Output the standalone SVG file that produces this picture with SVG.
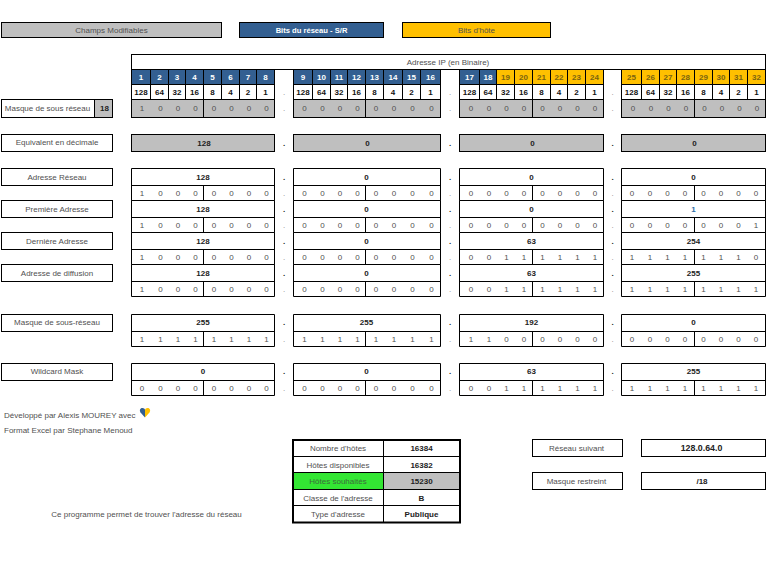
<svg xmlns="http://www.w3.org/2000/svg" width="769" height="579" viewBox="0 0 769 579">
<style>
text{font-family:"Liberation Sans",Arial,sans-serif;font-size:8px;text-anchor:middle;fill:#505050}
.b{font-weight:bold;fill:#111}
.w{font-weight:bold;fill:#fff}
.h{font-weight:bold;fill:#7a6410}
.l{text-anchor:start}
.d{font-weight:bold;fill:#222}
.s{fill:#8a8a8a}
rect,path.g{stroke:#000;stroke-width:1;fill:#fff}
rect.y{fill:#bfbfbf}
rect.bl{fill:#335f91}
rect.o{fill:#ffc000}
rect.gr{fill:#33e633}
rect.n{stroke:none}
path.g{fill:none}
path.t{fill:none;stroke:#000;stroke-width:2}
</style>
<rect width="769" height="579" style="fill:#fff;stroke:none"/>
<g id="legende">
<g id="legende-modifiables"><rect class="y" x="1.5" y="22.5" width="220" height="15"/><text x="111.5" y="33">Champs Modifiables</text></g>
<g id="legende-reseau"><rect class="bl" x="239.5" y="22.5" width="144" height="15"/><text class="w" x="311.5" y="33" style="font-size:7.6px">Bits du réseau - S/R</text></g>
<g id="legende-hote"><rect class="o" x="402.5" y="22.5" width="148" height="15"/><text x="476.5" y="33">Bits d'hôte</text></g>
</g>
<g id="titre"><rect x="131.5" y="54.5" width="634" height="15"/><text x="448" y="65">Adresse IP (en Binaire)</text></g>
<g id="entete">
<rect class="bl" x="131.5" y="69.5" width="19" height="15"/><rect class="bl" x="150.5" y="69.5" width="18" height="15"/><rect class="bl" x="168.5" y="69.5" width="17" height="15"/><rect class="bl" x="185.5" y="69.5" width="18" height="15"/><rect class="bl" x="203.5" y="69.5" width="18" height="15"/><rect class="bl" x="221.5" y="69.5" width="18" height="15"/><rect class="bl" x="239.5" y="69.5" width="17" height="15"/><rect class="bl" x="256.5" y="69.5" width="18" height="15"/>
<rect class="bl" x="293.5" y="69.5" width="19" height="15"/><rect class="bl" x="312.5" y="69.5" width="18" height="15"/><rect class="bl" x="330.5" y="69.5" width="17" height="15"/><rect class="bl" x="347.5" y="69.5" width="18" height="15"/><rect class="bl" x="365.5" y="69.5" width="18" height="15"/><rect class="bl" x="383.5" y="69.5" width="19" height="15"/><rect class="bl" x="402.5" y="69.5" width="18" height="15"/><rect class="bl" x="420.5" y="69.5" width="20" height="15"/>
<rect class="bl" x="459.5" y="69.5" width="20" height="15"/><rect class="bl" x="479.5" y="69.5" width="17" height="15"/><rect class="o" x="496.5" y="69.5" width="18" height="15"/><rect class="o" x="514.5" y="69.5" width="18" height="15"/><rect class="o" x="532.5" y="69.5" width="18" height="15"/><rect class="o" x="550.5" y="69.5" width="17" height="15"/><rect class="o" x="567.5" y="69.5" width="18" height="15"/><rect class="o" x="585.5" y="69.5" width="18" height="15"/>
<rect class="o" x="621.5" y="69.5" width="20" height="15"/><rect class="o" x="641.5" y="69.5" width="18" height="15"/><rect class="o" x="659.5" y="69.5" width="17" height="15"/><rect class="o" x="676.5" y="69.5" width="18" height="15"/><rect class="o" x="694.5" y="69.5" width="18" height="15"/><rect class="o" x="712.5" y="69.5" width="17" height="15"/><rect class="o" x="729.5" y="69.5" width="18" height="15"/><rect class="o" x="747.5" y="69.5" width="18" height="15"/>
<g transform="translate(0,80)">
<text class="w" x="141">1</text><text class="w" x="159.500">2</text><text class="w" x="177">3</text><text class="w" x="194.500">4</text><text class="w" x="212.500">5</text><text class="w" x="230.500">6</text><text class="w" x="248">7</text><text class="w" x="265.500">8</text>
<text class="w" x="303">9</text><text class="w" x="321.500">10</text><text class="w" x="339">11</text><text class="w" x="356.500">12</text><text class="w" x="374.500">13</text><text class="w" x="393">14</text><text class="w" x="411.500">15</text><text class="w" x="430.500">16</text>
<text class="w" x="469.500">17</text><text class="w" x="488">18</text><text class="h" x="505.500">19</text><text class="h" x="523.500">20</text><text class="h" x="541.500">21</text><text class="h" x="559">22</text><text class="h" x="576.500">23</text><text class="h" x="594.500">24</text>
<text class="h" x="631.500">25</text><text class="h" x="650.500">26</text><text class="h" x="668">27</text><text class="h" x="685.500">28</text><text class="h" x="703.500">29</text><text class="h" x="721">30</text><text class="h" x="738.500">31</text><text class="h" x="756.500">32</text>
</g>
</g>
<g id="poids">
<path class="g" d="M131.500 84.500H274.500V99.500H131.500ZM150.500 84.500V99.500M168.500 84.500V99.500M185.500 84.500V99.500M203.500 84.500V99.500M221.500 84.500V99.500M239.500 84.500V99.500M256.500 84.500V99.500"/>
<path class="g" d="M293.500 84.500H440.500V99.500H293.500ZM312.500 84.500V99.500M330.500 84.500V99.500M347.500 84.500V99.500M365.500 84.500V99.500M383.500 84.500V99.500M402.500 84.500V99.500M420.500 84.500V99.500"/>
<path class="g" d="M459.500 84.500H603.500V99.500H459.500ZM479.500 84.500V99.500M496.500 84.500V99.500M514.500 84.500V99.500M532.500 84.500V99.500M550.500 84.500V99.500M567.500 84.500V99.500M585.500 84.500V99.500"/>
<path class="g" d="M621.500 84.500H765.500V99.500H621.500ZM641.500 84.500V99.500M659.500 84.500V99.500M676.500 84.500V99.500M694.500 84.500V99.500M712.500 84.500V99.500M729.500 84.500V99.500M747.500 84.500V99.500"/>
<g transform="translate(0,95)">
<text class="b" x="141">128</text><text class="b" x="159.500">64</text><text class="b" x="177">32</text><text class="b" x="194.500">16</text><text class="b" x="212.500">8</text><text class="b" x="230.500">4</text><text class="b" x="248">2</text><text class="b" x="265.500">1</text>
<text class="b" x="303">128</text><text class="b" x="321.500">64</text><text class="b" x="339">32</text><text class="b" x="356.500">16</text><text class="b" x="374.500">8</text><text class="b" x="393">4</text><text class="b" x="411.500">2</text><text class="b" x="430.500">1</text>
<text class="b" x="469.500">128</text><text class="b" x="488">64</text><text class="b" x="505.500">32</text><text class="b" x="523.500">16</text><text class="b" x="541.500">8</text><text class="b" x="559">4</text><text class="b" x="576.500">2</text><text class="b" x="594.500">1</text>
<text class="b" x="631.500">128</text><text class="b" x="650.500">64</text><text class="b" x="668">32</text><text class="b" x="685.500">16</text><text class="b" x="703.500">8</text><text class="b" x="721">4</text><text class="b" x="738.500">2</text><text class="b" x="756.500">1</text>
<text class="s" x="284">.</text><text class="s" x="450">.</text><text class="s" x="612.500">.</text>
</g>
</g>
<g id="masque">
<g id="masque-label"><rect x="1.500" y="99.500" width="111" height="18"/><rect class="y" x="94.500" y="99.500" width="18" height="18"/><text x="47.500" y="111">Masque de sous réseau</text><text class="d" x="104.500" y="111">18</text></g>
<rect class="y" x="131.500" y="99.500" width="143" height="18"/><rect class="y" x="293.500" y="99.500" width="147" height="18"/><rect class="y" x="459.500" y="99.500" width="144" height="18"/><rect class="y" x="621.500" y="99.500" width="144" height="18"/>
<path class="g" d="M203.500 99.500V117.500M365.500 99.500V117.500M532.500 99.500V117.500M694.500 99.500V117.500"/>
<g transform="translate(0,111)">
<text x="142">1</text><text x="160.500">0</text><text x="178">0</text><text x="195.500">0</text><text x="214">0</text><text x="231.500">0</text><text x="249">0</text><text x="266.500">0</text>
<text x="304.500">0</text><text x="322.500">0</text><text x="340">0</text><text x="357.500">0</text><text x="376">0</text><text x="394">0</text><text x="412.500">0</text><text x="431.500">0</text>
<text x="471">0</text><text x="489">0</text><text x="506.500">0</text><text x="524">0</text><text x="542.500">0</text><text x="560">0</text><text x="577.500">0</text><text x="595">0</text>
<text x="633">0</text><text x="651">0</text><text x="668.500">0</text><text x="686">0</text><text x="704.500">0</text><text x="722">0</text><text x="739.500">0</text><text x="757">0</text>
<text class="s" x="284">.</text><text class="s" x="450">.</text><text class="s" x="612.500">.</text>
</g>
</g>
<g id="decimale">
<g id="decimale-label"><rect x="1.500" y="134.500" width="111" height="17"/><text x="57" y="145">Equivalent en décimale</text></g>
<rect class="y" x="131.500" y="134.500" width="143" height="17"/><rect class="y" x="293.500" y="134.500" width="147" height="17"/><rect class="y" x="459.500" y="134.500" width="144" height="17"/><rect class="y" x="621.500" y="134.500" width="144" height="17"/>
<g transform="translate(0,146)"><text class="d" x="204">128</text><text class="d" x="367.500">0</text><text class="d" x="532.500">0</text><text class="d" x="694.500">0</text><text class="d" x="284">.</text><text class="d" x="450">.</text><text class="d" x="612.500">.</text></g>
</g>
<g id="adresse-reseau">
<g id="adresse-reseau-label"><rect x="1.500" y="168.500" width="111" height="17"/><text x="57" y="180">Adresse Réseau</text></g>
<path class="g" d="M131.500 168.500H274.500V200.500H131.500ZM131.500 185.500H274.500M203.500 185.500V200.500M293.500 168.500H440.500V200.500H293.500ZM293.500 185.500H440.500M365.500 185.500V200.500M459.500 168.500H603.500V200.500H459.500ZM459.500 185.500H603.500M532.500 185.500V200.500M621.500 168.500H765.500V200.500H621.500ZM621.500 185.500H765.500M694.500 185.500V200.500"/>
<g transform="translate(0,180)"><text class="d" x="203">128</text><text class="d" x="366.500">0</text><text class="d" x="531.500">0</text><text class="d" x="693.500">0</text><text class="d" x="284">.</text><text class="d" x="450">.</text><text class="d" x="612.500">.</text></g>
<g transform="translate(0,196)">
<text x="142">1</text><text x="160.500">0</text><text x="178">0</text><text x="195.500">0</text><text x="214">0</text><text x="231.500">0</text><text x="249">0</text><text x="266.500">0</text>
<text x="304.500">0</text><text x="322.500">0</text><text x="340">0</text><text x="357.500">0</text><text x="376">0</text><text x="394">0</text><text x="412.500">0</text><text x="431.500">0</text>
<text x="471">0</text><text x="489">0</text><text x="506.500">0</text><text x="524">0</text><text x="542.500">0</text><text x="560">0</text><text x="577.500">0</text><text x="595">0</text>
<text x="632">0</text><text x="650">0</text><text x="667.500">0</text><text x="685">0</text><text x="703.500">0</text><text x="721">0</text><text x="738.500">0</text><text x="756">0</text>
<text class="s" x="284">.</text><text class="s" x="450">.</text><text class="s" x="612.500">.</text>
</g>
</g>
<g id="premiere-adresse">
<g id="premiere-adresse-label"><rect x="1.500" y="200.500" width="111" height="17"/><text x="57" y="212">Première Adresse</text></g>
<path class="g" d="M131.500 200.500H274.500V232.500H131.500ZM131.500 217.500H274.500M203.500 217.500V232.500M293.500 200.500H440.500V232.500H293.500ZM293.500 217.500H440.500M365.500 217.500V232.500M459.500 200.500H603.500V232.500H459.500ZM459.500 217.500H603.500M532.500 217.500V232.500M621.500 200.500H765.500V232.500H621.500ZM621.500 217.500H765.500M694.500 217.500V232.500"/>
<g transform="translate(0,212)"><text class="d" x="203">128</text><text class="d" x="366.500">0</text><text class="d" x="531.500">0</text><text class="d" x="693.500" style="fill:#2e6da4">1</text><text class="d" x="284">.</text><text class="d" x="450">.</text><text class="d" x="612.500">.</text></g>
<g transform="translate(0,228)">
<text x="142">1</text><text x="160.500">0</text><text x="178">0</text><text x="195.500">0</text><text x="214">0</text><text x="231.500">0</text><text x="249">0</text><text x="266.500">0</text>
<text x="304.500">0</text><text x="322.500">0</text><text x="340">0</text><text x="357.500">0</text><text x="376">0</text><text x="394">0</text><text x="412.500">0</text><text x="431.500">0</text>
<text x="471">0</text><text x="489">0</text><text x="506.500">0</text><text x="524">0</text><text x="542.500">0</text><text x="560">0</text><text x="577.500">0</text><text x="595">0</text>
<text x="632">0</text><text x="650">0</text><text x="667.500">0</text><text x="685">0</text><text x="703.500">0</text><text x="721">0</text><text x="738.500">0</text><text x="756">1</text>
<text class="s" x="284">.</text><text class="s" x="450">.</text><text class="s" x="612.500">.</text>
</g>
</g>
<g id="derniere-adresse">
<g id="derniere-adresse-label"><rect x="1.500" y="232.500" width="111" height="17"/><text x="57" y="244">Dernière Adresse</text></g>
<path class="g" d="M131.500 232.500H274.500V264.500H131.500ZM131.500 249.500H274.500M203.500 249.500V264.500M293.500 232.500H440.500V264.500H293.500ZM293.500 249.500H440.500M365.500 249.500V264.500M459.500 232.500H603.500V264.500H459.500ZM459.500 249.500H603.500M532.500 249.500V264.500M621.500 232.500H765.500V264.500H621.500ZM621.500 249.500H765.500M694.500 249.500V264.500"/>
<g transform="translate(0,244)"><text class="d" x="203">128</text><text class="d" x="366.500">0</text><text class="d" x="531.500">63</text><text class="d" x="693.500">254</text><text class="d" x="284">.</text><text class="d" x="450">.</text><text class="d" x="612.500">.</text></g>
<g transform="translate(0,260)">
<text x="142">1</text><text x="160.500">0</text><text x="178">0</text><text x="195.500">0</text><text x="214">0</text><text x="231.500">0</text><text x="249">0</text><text x="266.500">0</text>
<text x="304.500">0</text><text x="322.500">0</text><text x="340">0</text><text x="357.500">0</text><text x="376">0</text><text x="394">0</text><text x="412.500">0</text><text x="431.500">0</text>
<text x="471">0</text><text x="489">0</text><text x="506.500">1</text><text x="524">1</text><text x="542.500">1</text><text x="560">1</text><text x="577.500">1</text><text x="595">1</text>
<text x="632">1</text><text x="650">1</text><text x="667.500">1</text><text x="685">1</text><text x="703.500">1</text><text x="721">1</text><text x="738.500">1</text><text x="756">0</text>
<text class="s" x="284">.</text><text class="s" x="450">.</text><text class="s" x="612.500">.</text>
</g>
</g>
<g id="adresse-diffusion">
<g id="adresse-diffusion-label"><rect x="1.500" y="264.500" width="111" height="17"/><text x="57" y="276">Adresse de diffusion</text></g>
<path class="g" d="M131.500 264.500H274.500V296.500H131.500ZM131.500 281.500H274.500M203.500 281.500V296.500M293.500 264.500H440.500V296.500H293.500ZM293.500 281.500H440.500M365.500 281.500V296.500M459.500 264.500H603.500V296.500H459.500ZM459.500 281.500H603.500M532.500 281.500V296.500M621.500 264.500H765.500V296.500H621.500ZM621.500 281.500H765.500M694.500 281.500V296.500"/>
<g transform="translate(0,276)"><text class="d" x="203">128</text><text class="d" x="366.500">0</text><text class="d" x="531.500">63</text><text class="d" x="693.500">255</text><text class="d" x="284">.</text><text class="d" x="450">.</text><text class="d" x="612.500">.</text></g>
<g transform="translate(0,292)">
<text x="142">1</text><text x="160.500">0</text><text x="178">0</text><text x="195.500">0</text><text x="214">0</text><text x="231.500">0</text><text x="249">0</text><text x="266.500">0</text>
<text x="304.500">0</text><text x="322.500">0</text><text x="340">0</text><text x="357.500">0</text><text x="376">0</text><text x="394">0</text><text x="412.500">0</text><text x="431.500">0</text>
<text x="471">0</text><text x="489">0</text><text x="506.500">1</text><text x="524">1</text><text x="542.500">1</text><text x="560">1</text><text x="577.500">1</text><text x="595">1</text>
<text x="632">1</text><text x="650">1</text><text x="667.500">1</text><text x="685">1</text><text x="703.500">1</text><text x="721">1</text><text x="738.500">1</text><text x="756">1</text>
<text class="s" x="284">.</text><text class="s" x="450">.</text><text class="s" x="612.500">.</text>
</g>
</g>
<g id="masque-sous-reseau">
<g id="masque-sous-reseau-label"><rect x="1.500" y="314.500" width="111" height="17"/><text x="57" y="325">Masque de sous-réseau</text></g>
<path class="g" d="M131.500 314.500H274.500V346.500H131.500ZM131.500 331.500H274.500M203.500 331.500V346.500M293.500 314.500H440.500V346.500H293.500ZM293.500 331.500H440.500M365.500 331.500V346.500M459.500 314.500H603.500V346.500H459.500ZM459.500 331.500H603.500M532.500 331.500V346.500M621.500 314.500H765.500V346.500H621.500ZM621.500 331.500H765.500M694.500 331.500V346.500"/>
<g transform="translate(0,325)"><text class="d" x="203">255</text><text class="d" x="366.500">255</text><text class="d" x="531.500">192</text><text class="d" x="693.500">0</text><text class="d" x="284">.</text><text class="d" x="450">.</text><text class="d" x="612.500">.</text></g>
<g transform="translate(0,342)">
<text x="142">1</text><text x="160.500">1</text><text x="178">1</text><text x="195.500">1</text><text x="214">1</text><text x="231.500">1</text><text x="249">1</text><text x="266.500">1</text>
<text x="304.500">1</text><text x="322.500">1</text><text x="340">1</text><text x="357.500">1</text><text x="376">1</text><text x="394">1</text><text x="412.500">1</text><text x="431.500">1</text>
<text x="471">1</text><text x="489">1</text><text x="506.500">0</text><text x="524">0</text><text x="542.500">0</text><text x="560">0</text><text x="577.500">0</text><text x="595">0</text>
<text x="632">0</text><text x="650">0</text><text x="667.500">0</text><text x="685">0</text><text x="703.500">0</text><text x="721">0</text><text x="738.500">0</text><text x="756">0</text>
<text class="s" x="284">.</text><text class="s" x="450">.</text><text class="s" x="612.500">.</text>
</g>
</g>
<g id="wildcard">
<g id="wildcard-label"><rect x="1.500" y="363.500" width="111" height="17"/><text x="57" y="374">Wildcard Mask</text></g>
<path class="g" d="M131.500 363.500H274.500V395.500H131.500ZM131.500 380.500H274.500M203.500 380.500V395.500M293.500 363.500H440.500V395.500H293.500ZM293.500 380.500H440.500M365.500 380.500V395.500M459.500 363.500H603.500V395.500H459.500ZM459.500 380.500H603.500M532.500 380.500V395.500M621.500 363.500H765.500V395.500H621.500ZM621.500 380.500H765.500M694.500 380.500V395.500"/>
<g transform="translate(0,374)"><text class="d" x="203">0</text><text class="d" x="366.500">0</text><text class="d" x="531.500">63</text><text class="d" x="693.500">255</text><text class="d" x="284">.</text><text class="d" x="450">.</text><text class="d" x="612.500">.</text></g>
<g transform="translate(0,391)">
<text x="142">0</text><text x="160.500">0</text><text x="178">0</text><text x="195.500">0</text><text x="214">0</text><text x="231.500">0</text><text x="249">0</text><text x="266.500">0</text>
<text x="304.500">0</text><text x="322.500">0</text><text x="340">0</text><text x="357.500">0</text><text x="376">0</text><text x="394">0</text><text x="412.500">0</text><text x="431.500">0</text>
<text x="471">0</text><text x="489">0</text><text x="506.500">1</text><text x="524">1</text><text x="542.500">1</text><text x="560">1</text><text x="577.500">1</text><text x="595">1</text>
<text x="632">1</text><text x="650">1</text><text x="667.500">1</text><text x="685">1</text><text x="703.500">1</text><text x="721">1</text><text x="738.500">1</text><text x="756">1</text>
<text class="s" x="284">.</text><text class="s" x="450">.</text><text class="s" x="612.500">.</text>
</g>
</g>
<g id="credits">
<text class="l" x="4" y="418">Développé par Alexis MOUREY avec</text>
<path d="M145 417.500L140.500 412.500C139 410 140.500 408 142.500 408C143.800 408 144.600 408.800 145 409.800Z" style="fill:#335f91"/>
<path d="M145 417.500L149.500 412.500C151 410 149.500 408 147.500 408C146.200 408 145.400 408.800 145 409.800Z" style="fill:#ffc000"/>
<text class="l" x="4" y="433">Format Excel par Stephane Menoud</text>
<text x="146.500" y="517">Ce programme permet de trouver l'adresse du réseau</text>
</g>
<g id="hotes">
<rect class="gr n" x="293" y="472.500" width="91" height="17"/><rect class="y n" x="384" y="472.500" width="76" height="17"/>
<path class="g" d="M293 456.500H460M293 472.500H460M293 489.500H460M293 505.500H460M383.500 440V522"/>
<path class="t" d="M293 440H460V522.500H293Z"/>
<text x="338" y="451">Nombre d'hôtes</text><text class="d" x="421.500" y="451">16384</text>
<text x="338" y="467.500">Hôtes disponibles</text><text class="d" x="421.500" y="467.500">16382</text>
<text x="338" y="484" style="fill:#3d6b3d">Hôtes souhaités</text><text class="d" x="421.500" y="484">15230</text>
<text x="338" y="500.500">Classe de l'adresse</text><text class="d" x="421.500" y="500.500">B</text>
<text x="338" y="516.500">Type d'adresse</text><text class="d" x="421.500" y="516.500">Publique</text>
</g>
<g id="reseau-suivant"><rect x="532.500" y="439.500" width="90" height="17"/><text x="576.500" y="451">Réseau suivant</text><rect x="641.500" y="439.500" width="124" height="17"/><text class="d" x="701.500" y="451" style="font-size:8.800px">128.0.64.0</text></g>
<g id="masque-restreint"><rect x="532.500" y="472.500" width="90" height="17"/><text x="576.500" y="484">Masque restreint</text><rect x="641.500" y="472.500" width="124" height="17"/><text class="d" x="702" y="484">/18</text></g>
</svg>
